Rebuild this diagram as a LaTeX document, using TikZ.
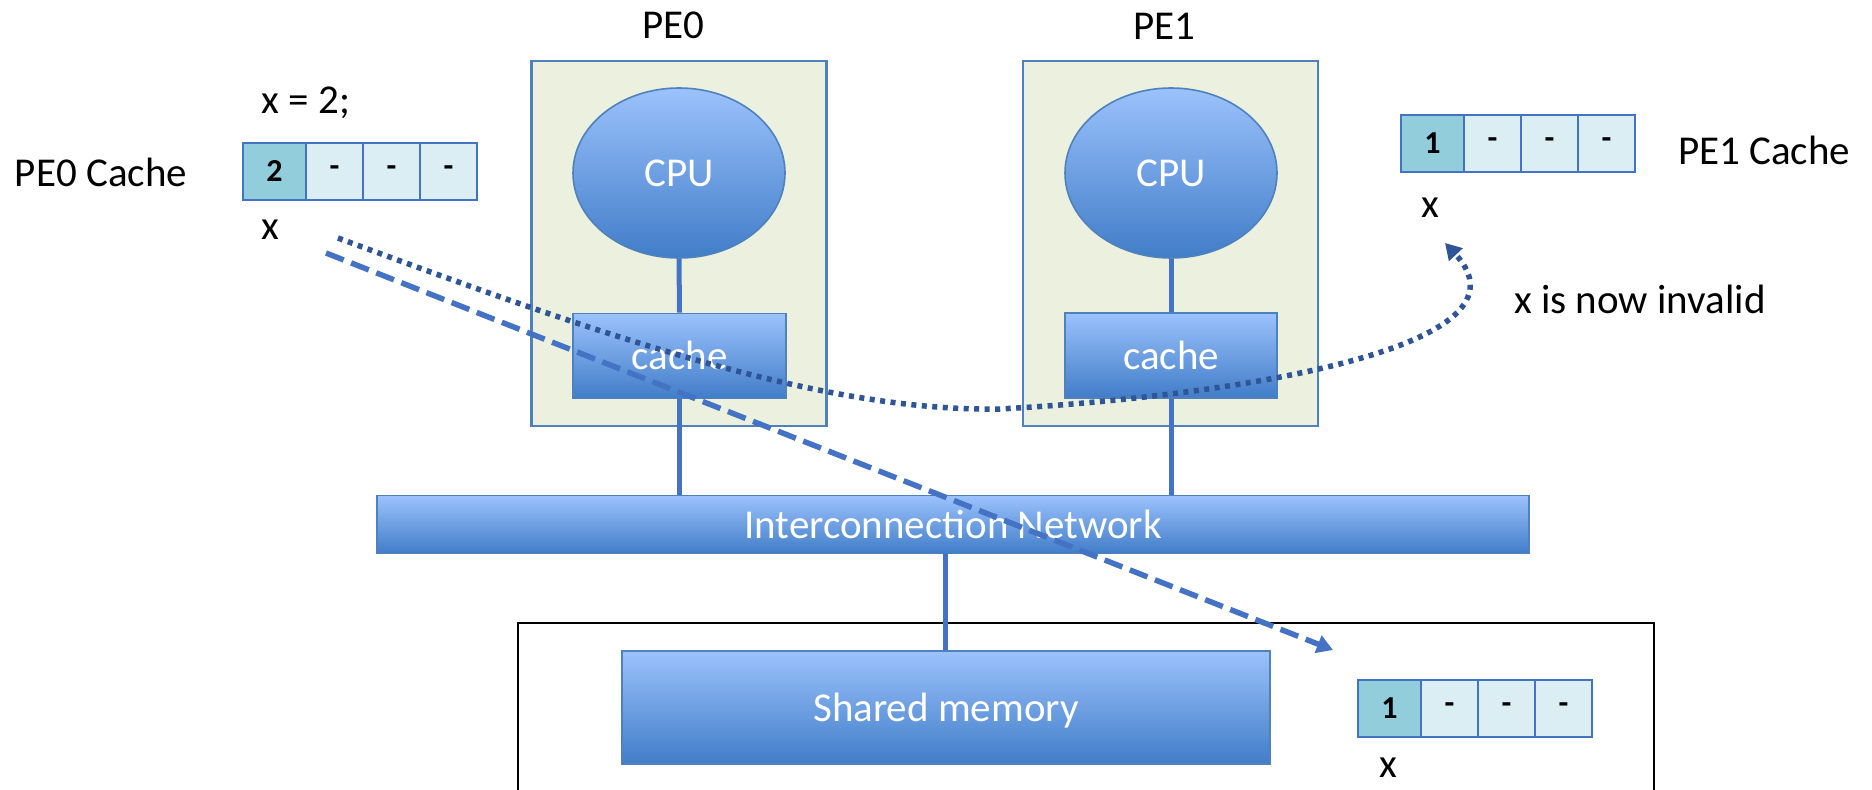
\documentclass[tikz,border=0pt]{standalone}
\usepackage{fontspec}
\setmainfont{Carlito}
\usetikzlibrary{shapes.geometric,arrows.meta}

\definecolor{peFill}{RGB}{235,241,222}
\definecolor{edgeBlue}{RGB}{79,129,189}
\definecolor{lineBlue}{RGB}{68,114,196}
\definecolor{dotBlue}{RGB}{47,85,151}
\definecolor{gradTop}{RGB}{155,194,252}
\definecolor{gradBot}{RGB}{65,125,200}
\definecolor{cellHot}{RGB}{146,205,220}
\definecolor{cellCold}{RGB}{218,238,243}

\tikzset{
  big/.style={font=\fontsize{41}{49}\selectfont},
  label/.style={big, anchor=base, inner sep=0},
  pebox/.style={draw=edgeBlue, line width=2.2pt, fill=peFill, inner sep=0,
    minimum width=295pt, minimum height=365pt},
  unit/.style={draw=edgeBlue, line width=1.6pt, top color=gradTop, bottom color=gradBot,
    text=white, big, inner sep=0, text height=27pt, text depth=0pt},
  link/.style={draw=lineBlue, line width=5pt},
  cell/.style={draw=lineBlue, line width=2.8pt, fill=cellCold, inner sep=0,
    minimum height=57pt, font=\fontsize{32}{38}\selectfont\bfseries},
  dashline/.style={draw=lineBlue, line width=5.5pt, dash pattern=on 19pt off 8pt,
    -{Triangle[length=16pt,width=18pt]}},
  dotline/.style={draw=dotBlue, line width=5.5pt, dash pattern=on 5pt off 5.5pt,
    -{Triangle[length=16pt,width=18pt]}},
}

% one row of four cache cells: name, left edge, vertical middle, first value
\newcommand{\cellrow}[4]{%
  \node[cell, fill=cellHot, minimum width=63pt] (#1a) at (#2+31.5,#3) {#4};
  \node[cell, minimum width=57pt] (#1b) at (#2+91.5,#3) {-};
  \node[cell, minimum width=57pt] (#1c) at (#2+148.5,#3) {-};
  \node[cell, minimum width=57pt] (#1d) at (#2+205.5,#3) {-};
}

\begin{document}
\begin{tikzpicture}[x=1pt, y=-1pt]
\useasboundingbox[fill=white] (0,0) rectangle (1872,790);

% processing elements
\node[pebox] (pe0) at (679,243.5) {};
\node[pebox] (pe1) at (1170.5,243.5) {};
\node[label] (pe0name) at (673,38) {PE0};
\node[label] (pe1name) at (1164,39) {PE1};

\node[unit, ellipse, minimum width=212pt, minimum height=170pt] (cpu0) at (679,173) {CPU};
\node[unit, ellipse, minimum width=212pt, minimum height=170pt] (cpu1) at (1171,173) {CPU};
\node[unit, minimum width=213pt, minimum height=85pt] (cache0) at (679.5,356) {cache};
\node[unit, minimum width=212pt, minimum height=85pt] (cache1) at (1171,355.5) {cache};

% network and memory
\node[unit, minimum width=1152pt, minimum height=58pt] (net) at (953,524.5) {Interconnection Network};
\draw[black, line width=1.5pt] (518,790) -- (518,623) -- (1654,623) -- (1654,790);
\node[unit, minimum width=648pt, minimum height=113pt] (shmem) at (946,707.5) {Shared memory};

\draw[link] (cpu0.south) -- (cache0.north);
\draw[link] (cpu1.south) -- (cache1.north);
\draw[link] (cache0.south) -- (cache0.south |- net.north);
\draw[link] (cache1.south) -- (cache1.south |- net.north);
\coordinate (netdrop) at (945,553);
\draw[link] (netdrop) -- (netdrop |- shmem.north);

% cache contents
\cellrow{pz}{243}{171.5}{2}
\cellrow{po}{1401}{143.5}{1}
\cellrow{mm}{1358}{708.5}{1}

\node[label] (pzname) at (101,186) {PE0 Cache};
\node[label] (poname) at (1764,164) {PE1 Cache};
\node[label] (assign) at (306,113) {x = 2;};
\node[label] (pzx) at (270,239) {x};
\node[label] (pox) at (1430,217) {x};
\node[label] (mmx) at (1388,777) {x};
\node[label] (invalid) at (1640,313) {x is now invalid};

% write-back and invalidation
\coordinate (wbStart) at (326,253);
\coordinate (wbEnd) at (1333,650);
\draw[dashline] (wbStart) -- (wbEnd);

\coordinate (invStart) at (338,238);
\coordinate (invEnd) at (1445,243);
\draw[dotline] (invStart) .. controls (600,335) and (820,412) .. (1000,409)
  .. controls (1250,395) and (1540,345) .. (invEnd);
\end{tikzpicture}
\end{document}
